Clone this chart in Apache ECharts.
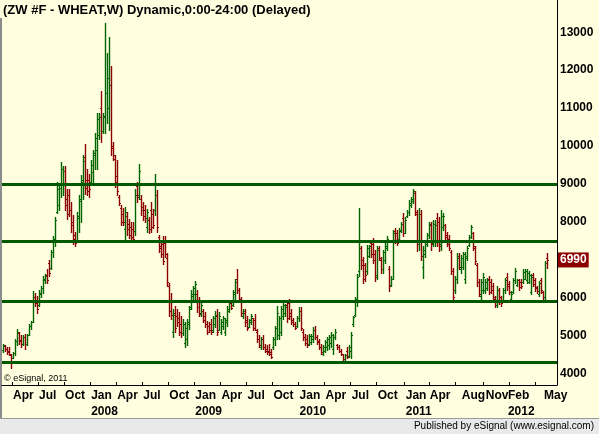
<!DOCTYPE html>
<html><head><meta charset="utf-8">
<script src="https://cdn.jsdelivr.net/npm/echarts@6/dist/echarts.min.js"></script>
<style>html,body{margin:0;padding:0;background:#ffffe0;}#c{width:599px;height:434px;}</style>
</head><body><div id="c"></div>
<script>
// ---- data (weekly bars, ZW #F wheat) ----
const firstWeek = '2007-03-02';
const padWeeks = 4;
const opens = [
4610,4720,4650,4600,4480,4410,4530,4860,5050,4880,
4760,4960,4780,5010,5240,5360,6000,5900,5800,6100,
6250,6450,6600,6900,6780,7200,7550,8250,8450,8900,
9000,9350,8600,8700,8300,8000,7650,7500,8100,8550,
9050,9700,9100,9100,9050,9300,9750,9900,10300,11000,
10400,10800,11400,11000,11600,10000,9650,9200,8650,8350,
8200,7800,8150,7950,7850,7800,7750,8950,8700,8600,
8400,8300,7850,8050,8300,8200,8300,8700,7600,7350,
7400,7450,7050,6300,5900,5100,5600,5500,5450,5300,
5050,4800,4900,5300,5750,6050,6100,6100,5900,5560,
5650,5500,5300,5250,5300,5150,5300,5500,5150,5100,
5250,5100,5350,5650,5850,5800,6100,6500,6200,5900,
5500,5600,5400,5220,5350,5450,5400,5100,4900,4700,
4900,4700,4650,4600,4550,4680,4900,5200,5000,5100,
5500,5600,5800,5850,5600,5400,5300,5250,5450,5650,
5100,4950,4900,4780,4820,4900,5150,4950,4850,4700,
4520,4600,4700,4750,4800,4650,4950,4750,4700,4600,
4500,4300,4600,4450,4600,5300,5550,5900,6700,7300,
7000,6850,6700,7100,7450,7400,7150,6600,7300,7000,
6750,7000,7300,6750,6320,6500,7750,7700,7550,7780,
8100,7700,8150,8250,8450,8550,8750,8200,7400,8200,
6800,7150,7400,7650,7900,7450,7500,8100,8000,7400,
7850,7900,7650,7550,7200,6700,6200,6500,7100,6750,
6800,6500,7050,7380,7600,7700,7300,6850,6400,6050,
6200,6200,6250,6500,6400,6300,6000,5800,6200,6000,
5900,6200,6550,6350,5950,6150,6450,6320,6450,6400,
6420,6500,6450,6420,6150,6600,6450,6280,6100,6450,
6150,6000,7050];
const highs = [
4780,4740,4690,4690,4520,4560,4910,5170,5080,5000,
5000,5040,5040,5300,5390,6170,6130,6040,6210,6300,
6560,6610,6740,7000,7260,7610,8130,9040,9000,9570,
9480,9480,8860,8860,8520,8180,7740,8260,8700,9220,
9770,10040,9380,9270,9620,9880,10350,10870,10870,11440,
10870,13240,12440,12880,12120,10090,9750,9640,8700,8440,
8350,8390,8260,8080,8000,8000,8860,9040,9510,8700,
8520,8440,8340,8130,8520,8340,9250,8830,7650,7430,
7610,7610,7170,6390,6130,5690,5780,5690,5610,5520,
5430,5340,5430,5780,6210,6300,6430,6210,6000,5870,
5690,5610,5390,5340,5430,5520,5650,5690,5610,5430,
5520,5470,5780,5910,5870,6210,6480,6740,6260,6000,
5690,5690,5520,5430,5560,5470,5560,5170,5000,4950,
5000,4780,4740,4780,4650,4950,5260,5780,5520,5780,
5870,5820,5870,5950,5690,5470,5340,5520,5740,5740,
5170,5040,5000,5040,5040,5210,5260,5000,4910,4780,
4740,4870,4950,5000,5080,5040,5170,4780,4740,4650,
4520,4520,4690,4740,5080,5520,6000,6610,8350,7350,
7080,6910,7390,7390,7520,7560,7260,7350,7350,7080,
7260,7430,7610,6820,6560,7780,7820,7780,7820,8000,
8220,8130,8300,8560,8650,8870,8820,8300,8350,8300,
7350,7480,7690,8000,8000,8040,8040,8220,8130,8300,
8220,7950,7740,7650,7260,6780,6560,7170,7170,7130,
7210,7210,7350,7650,7910,7740,7350,6910,6480,6480,
6650,6480,6520,6560,6480,6390,6040,6300,6260,6040,
6260,6520,6650,6430,6170,6520,6780,6480,6480,6480,
6740,6740,6740,6690,6610,6650,6520,6300,6430,6520,
6170,6950,7170];
const lows = [
4560,4600,4520,4470,4130,4390,4470,4740,4780,4690,
4740,4650,4740,5000,5170,5340,5780,5600,5780,6000,
6130,6390,6390,6560,6740,7080,7350,8220,8300,8660,
8700,8300,8080,8160,7740,7400,7350,7480,7740,8000,
8600,8730,8700,8640,9000,8960,9380,9380,10170,10090,
10350,10350,10610,10430,9750,9640,8910,8700,8440,7920,
7920,7480,7660,7560,7480,7480,7660,8520,8600,8180,
8050,8000,7740,7690,7740,7820,8180,7740,7200,7080,
6870,7080,6300,5520,5430,4950,5080,5260,5000,4950,
5000,4690,4740,5170,5690,5950,5950,5610,5520,5520,
5340,5210,5040,5080,5040,5080,5210,5000,5130,5040,
5170,5000,5260,5610,5690,5780,5910,6130,5870,5520,
5470,5260,5130,5210,5300,5130,5130,4820,4690,4650,
4650,4560,4520,4470,4390,4650,4740,4910,4910,5000,
5430,5520,5340,5430,5300,5260,5170,5210,5390,5130,
4870,4740,4690,4740,4780,4820,4910,4780,4650,4520,
4470,4560,4610,4650,4690,4520,4910,4650,4560,4470,
4340,4260,4390,4430,4390,5260,5520,5780,6560,6740,
6390,6430,6610,7080,7080,6910,6430,6480,7000,6650,
6650,6910,7260,6170,6300,6480,7430,7390,7520,7740,
7610,7690,8130,8170,8390,8480,8170,7220,7260,7000,
6520,7080,7350,7560,7260,7350,7350,7350,7220,7260,
7780,7520,7350,7260,6610,5910,6130,6390,6740,6650,
6740,6390,7000,7350,7560,7260,6870,6300,6040,5950,
6130,6130,6210,6080,6130,5870,5740,5740,5820,5780,
5870,6130,6210,6080,5910,6130,6390,6300,6210,6260,
6390,6480,6390,6390,6080,6300,6170,6130,6040,6130,
5950,5910,6780];
const closes = [
4740,4630,4560,4500,4330,4530,4860,5080,4850,4760,
4960,4780,5000,5250,5350,6000,5850,5700,6130,6260,
6480,6560,6450,6650,7200,7550,8050,8850,8900,9400,
9350,8450,8200,8300,7900,7550,7450,8150,8600,9100,
9600,8900,8800,8850,9500,9800,10200,10700,10750,10400,
10750,11400,11800,11600,9950,9750,9050,8800,8500,8000,
8000,8250,7800,7650,7600,7550,8700,8650,9350,8300,
8150,8100,8250,7800,7850,7900,9000,7850,7300,7150,
6950,7150,6400,5650,5550,5550,5200,5350,5100,5050,
5300,5200,5350,5700,6100,6250,6350,5750,5600,5800,
5400,5300,5100,5150,5100,5450,5550,5100,5500,5350,
5450,5400,5700,5850,5720,6150,6400,6200,5950,5600,
5650,5350,5200,5400,5500,5200,5150,4900,4750,4900,
4700,4600,4550,4500,4420,4900,5200,5600,5450,5700,
5800,5750,5450,5500,5350,5300,5200,5450,5650,5200,
4950,4800,4750,4980,4980,5150,4950,4820,4700,4560,
4700,4820,4900,4950,5000,4950,5100,4680,4600,4500,
4380,4480,4420,4700,5000,5480,5950,6550,7500,6850,
6500,6600,7300,7350,7150,7000,6550,7250,7050,6750,
7200,7350,7550,6300,6500,7700,7500,7450,7750,7950,
7700,8050,8250,8500,8600,8800,8250,7400,8200,7100,
7250,7400,7650,7950,7400,7950,7900,7500,7350,8150,
8150,7600,7400,7300,6700,6000,6500,7050,6800,7050,
7150,7100,7300,7600,7850,7350,6950,6400,6100,6400,
6550,6400,6450,6150,6200,5950,5800,6200,5900,5850,
6200,6450,6300,6150,6100,6450,6700,6450,6280,6300,
6680,6700,6650,6600,6550,6350,6250,6180,6380,6200,
6000,6900,6990];
const levels = [9000, 7475, 5900, 4300];
const yTicks = [4000,5000,6000,7000,8000,9000,10000,11000,12000,13000];
const yTickLabels = ['4000','5000','6000','7000','8000','9000','10000','11000','12000','13000'];
// x labels: [week the label sits on, month text, year text or '']
const xLabels = [
  ['2007-04-06','Apr',''],['2007-07-06','Jul',''],['2007-10-05','Oct',''],
  ['2008-01-04','Jan','2008'],['2008-04-04','Apr',''],['2008-07-04','Jul',''],['2008-10-03','Oct',''],
  ['2009-01-02','Jan','2009'],['2009-04-03','Apr',''],['2009-07-03','Jul',''],['2009-10-02','Oct',''],
  ['2010-01-01','Jan','2010'],['2010-04-02','Apr',''],['2010-07-02','Jul',''],['2010-10-01','Oct',''],
  ['2011-01-07','Jan','2011'],['2011-04-01','Apr',''],['2011-07-22','Aug',''],['2011-10-14','Nov',''],
  ['2011-12-30','Feb','2012'],['2012-05-04','May','']];
const tickMonths = ['2007-04','2007-07','2007-10','2008-01','2008-04','2008-07','2008-10',
  '2009-01','2009-04','2009-07','2009-10','2010-01','2010-04','2010-07','2010-10',
  '2011-01','2011-04','2011-07','2011-10','2012-01','2012-04'];
const titleText = '(ZW #F - WHEAT,W) Dynamic,0:00-24:00 (Delayed)';

// ---- build ----
const categories = [];
let t = Date.parse(firstWeek + 'T00:00:00Z');
for (let i = 0; i < opens.length + padWeeks; i++) {
  categories.push(new Date(t).toISOString().slice(0, 10));
  t += 7 * 86400000;
}
function firstIdx(s) { return categories.findIndex(c => c >= s); }
const labelAt = {};
xLabels.forEach(([d, m, y]) => {
  const i = firstIdx(d);
  if (i < 0) return;
  labelAt[i] = y ? '{m|' + m + '}\n{y|' + y + '}' : '{m|' + m + '}';
});
const tickAt = new Set(tickMonths.map(ym => firstIdx(ym + '-01')));
const bars = opens.map((o, i) => [i, o, highs[i], lows[i], closes[i]]);
const last = closes[closes.length - 1];
const FONT = '"Liberation Sans", Arial, sans-serif';

function renderItem(params, api) {
  const i = api.value(0);
  const o = api.coord([i, api.value(1)]);
  const h = api.coord([i, api.value(2)]);
  const l = api.coord([i, api.value(3)]);
  const c = api.coord([i, api.value(4)]);
  const x = Math.round(o[0] - 0.5) + 0.5;
  const col = api.value(4) >= api.value(1) ? '#006400' : '#8b0000';
  const yo = Math.round(o[1]) + 0.5, yc = Math.round(c[1]) + 0.5;
  return { type: 'group', children: [
    { type: 'line', shape: { x1: x, y1: Math.round(h[1]), x2: x, y2: Math.round(l[1]) + 1 }, style: { stroke: col, lineWidth: 1.4 } },
    { type: 'line', shape: { x1: x - 1.5, y1: yo, x2: x, y2: yo }, style: { stroke: col, lineWidth: 1 } },
    { type: 'line', shape: { x1: x, y1: yc, x2: x + 1.5, y2: yc }, style: { stroke: col, lineWidth: 1 } }
  ]};
}

const chart = echarts.init(document.getElementById('c'), null, { renderer: 'canvas' });
chart.setOption({
  backgroundColor: '#ffffe0',
  animation: false,
  title: { text: titleText, left: 3, top: 4, padding: 0,
    textStyle: { fontSize: 13, fontWeight: 'bold', color: '#000', fontFamily: FONT } },
  grid: { left: 2, right: 42, top: 0, bottom: 49, containLabel: false },
  xAxis: {
    type: 'category', data: categories, boundaryGap: true,
    axisLine: { show: true, lineStyle: { color: '#000', width: 1 } },
    axisTick: { show: true, inside: true, length: 3, interval: (i) => tickAt.has(i), lineStyle: { color: '#000' } },
    axisLabel: {
      interval: (i) => labelAt[i] !== undefined,
      formatter: (v, i) => labelAt[i] || '',
      align: 'left', margin: 3, hideOverlap: false,
      rich: {
        m: { fontSize: 12, fontWeight: 'bold', color: '#000', fontFamily: FONT, lineHeight: 16 },
        y: { fontSize: 12, fontWeight: 'bold', color: '#000', fontFamily: FONT, lineHeight: 16 }
      }
    },
    splitLine: { show: false }
  },
  yAxis: {
    type: 'value', position: 'right', min: 3690, max: 13850, scale: true,
    splitLine: { show: false },
    axisLine: { show: true, lineStyle: { color: '#000', width: 1 } },
    axisTick: { show: false },
    axisLabel: { customValues: yTicks, formatter: (v) => yTickLabels[yTicks.indexOf(v)] || String(v),
      color: '#000', fontWeight: 'bold', fontSize: 12, fontFamily: FONT, margin: 3, align: 'left' }
  },
  series: [
    { type: 'custom', renderItem: renderItem, data: bars, encode: { x: 0, y: [1, 2, 3, 4] }, clip: true, z: 2 },
    { type: 'line', data: [], z: 3, silent: true,
      markLine: { silent: true, symbol: 'none', animation: false,
        lineStyle: { color: '#005800', width: 3, type: 'solid' }, label: { show: false },
        data: levels.map(v => ({ yAxis: v })) } },
    { type: 'line', data: [], z: 4, silent: true,
      markLine: { silent: true, symbol: 'none', animation: false,
        lineStyle: { color: 'rgba(0,0,0,0)', width: 1, opacity: 1 },
        label: { show: true, position: 'end', distance: 1, formatter: () => String(last), opacity: 1,
          backgroundColor: '#8b0000', color: '#ffffff', fontWeight: 'bold', fontSize: 12, fontFamily: FONT,
          padding: [2, 2, 1, 2] },
        data: [{ yAxis: last }] } }
  ],
  graphic: [
    { type: 'rect', left: 0, top: 18, shape: { width: 2, height: 401 }, style: { fill: '#8c8c8c' }, silent: true },
    { type: 'rect', left: 0, top: 418, shape: { width: 599, height: 16 }, style: { fill: '#e9e9e9' }, silent: true },
    { type: 'rect', left: 0, top: 418, shape: { width: 599, height: 1 }, style: { fill: '#9a9a9a' }, silent: true },
    { type: 'text', right: 5, top: 421, style: { text: 'Published by eSignal (www.esignal.com)', fontSize: 10, fontFamily: FONT, fill: '#000' } },
    { type: 'text', left: 4, top: 374, style: { text: '\u00a9 eSignal, 2011', fontSize: 9, fontFamily: FONT, fill: '#000' } }
  ]
});
</script></body></html>
